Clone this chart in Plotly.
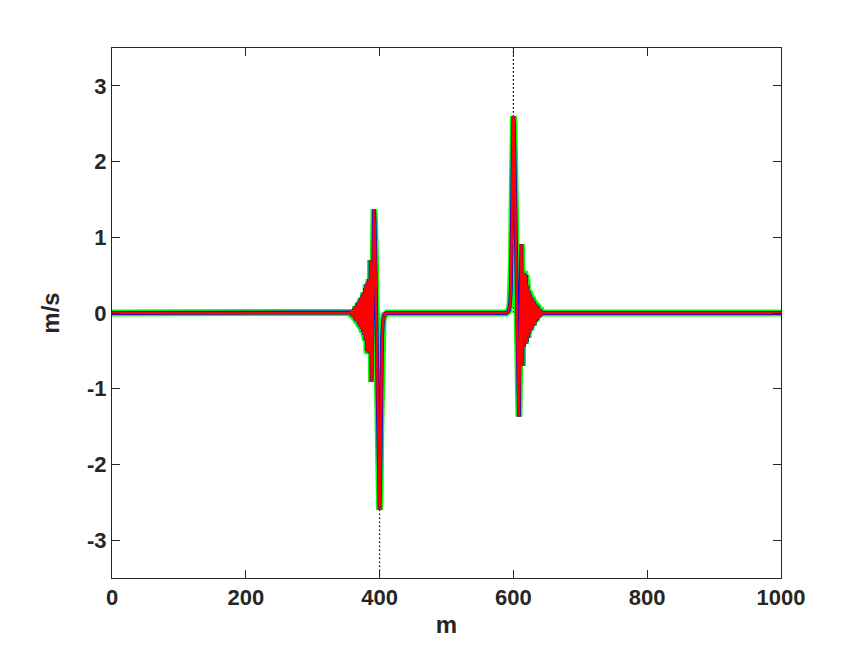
import plotly.graph_objects as go

# ---- data ----
x_vals = [0, 355,
          356, 357, 358, 359, 360, 361, 362, 363, 364, 365, 366, 367, 368, 369, 370,
          371, 372, 373, 374, 375, 376, 377, 378, 379, 380, 381, 382, 383, 384,
          385.5, 386.5, 388, 390, 391.7, 392.5, 393.5, 395, 396.5, 398, 399.5, 400,
          400.8, 401.8, 402.8, 403.8, 405, 406.5, 408.5, 411,
          589, 591.5, 593.5, 595, 596.2, 597.2, 598.2, 599.2, 600, 600.5, 602, 603.5,
          605, 606.5, 607.5, 608.3, 610, 612, 613.5, 614.5, 616, 617, 618, 619, 620,
          621, 622, 623, 624, 625, 626, 627, 628, 629, 630, 631, 632, 633, 634, 635,
          636, 637, 638, 639, 640, 641, 642, 643, 644, 645,
          1000]
y_vals = [0, 0,
          0.01, -0.02, 0.03, -0.04, 0.04, -0.05, 0.06, -0.08, 0.09, -0.10, 0.11, -0.12, 0.14, -0.15, 0.17,
          -0.18, 0.20, -0.21, 0.23, -0.25, 0.27, -0.29, 0.33, -0.36, 0.38, -0.50, 0.41, -0.52, 0.45,
          -0.53, 0.70, -0.91, 0.0, 1.37, 1.2, 0.8, 0.0, -0.9, -1.9, -2.55, -2.6,
          -2.3, -1.5, -0.7, -0.3, -0.12, -0.04, -0.01, 0,
          0, 0.01, 0.04, 0.12, 0.3, 0.7, 1.5, 2.3, 2.6, 2.55, 1.9, 0.9,
          0.0, -0.8, -1.2, -1.37, 0.0, 0.91, -0.70, 0.53, -0.45, 0.52, -0.41, 0.50, -0.38,
          0.36, -0.33, 0.29, -0.27, 0.25, -0.23, 0.21, -0.20, 0.18, -0.17, 0.15, -0.14, 0.12, -0.11, 0.10,
          -0.09, 0.08, -0.06, 0.05, -0.04, 0.04, -0.03, 0.02, -0.01, 0,
          0]

# exact solution (black dotted): spikes at 400 (down) and 600 (up)
exact_x = [0, 400, 400, 400, 600, 600, 600, 1000]
exact_y = [0, 0, -10, 0, 0, 10, 0, 0]

x_ticks = [0, 200, 400, 600, 800, 1000]
y_ticks = [-3, -2, -1, 0, 1, 2, 3]
y_tick_labels = ["-3", "-2", "-1", "0", "1", "2", "3"]

FONT = "Liberation Sans Narrow, Liberation Sans, Arial, sans-serif"

fig = go.Figure()
fig.add_trace(go.Scatter(x=exact_x, y=exact_y, mode="lines",
                         line=dict(color="black", width=1.2, dash="1.5px,2.5px"),
                         showlegend=False))
fig.add_trace(go.Scatter(x=x_vals, y=y_vals, mode="lines",
                         line=dict(color="#00ff00", width=7), showlegend=False))
fig.add_trace(go.Scatter(x=x_vals, y=y_vals, mode="lines",
                         line=dict(color="#0000ff", width=3.8), showlegend=False))
fig.add_trace(go.Scatter(x=x_vals, y=y_vals, mode="lines",
                         line=dict(color="#ff0000", width=2.5), showlegend=False))

axis_common = dict(
    showgrid=False, zeroline=False, showline=True, linecolor="#262626", linewidth=1,
    mirror="ticks", ticks="inside", ticklen=8, tickcolor="#262626",
    tickfont=dict(family=FONT, size=22, color="#262626", weight="bold"),
)

fig.update_layout(
    width=863, height=650,
    margin=dict(l=112, r=82, t=48, b=72),
    paper_bgcolor="white", plot_bgcolor="white",
    xaxis=dict(range=[0, 1000], tickvals=x_ticks,
               title=dict(text="m", standoff=6,
                          font=dict(family=FONT, size=24, color="#262626", weight="bold")),
               **axis_common),
    yaxis=dict(range=[-3.5, 3.5], tickvals=y_ticks, ticktext=y_tick_labels,
               title=dict(text="m/s", standoff=20,
                          font=dict(family=FONT, size=24, color="#262626", weight="bold")),
               **axis_common),
)

fig.write_html("out.html")
